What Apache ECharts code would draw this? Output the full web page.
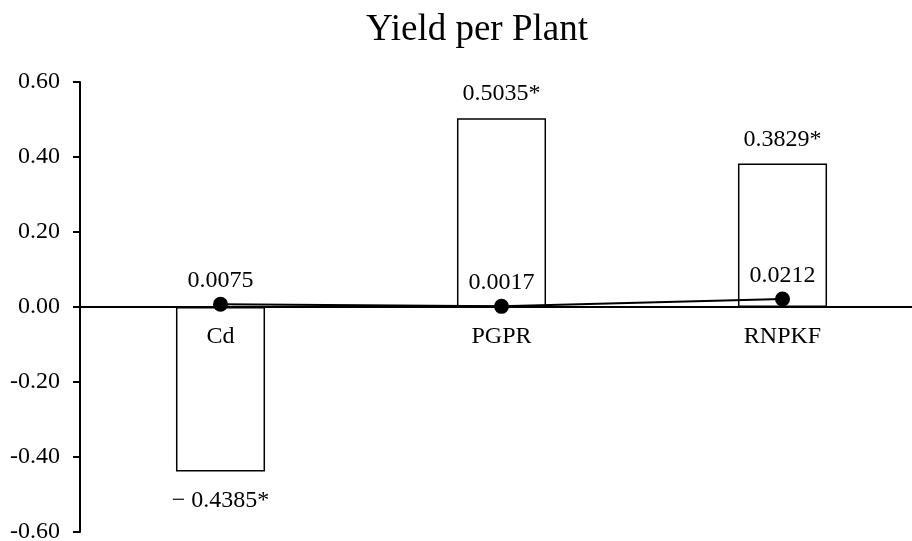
<!DOCTYPE html>
<html>
<head>
<meta charset="utf-8">
<script src="https://cdn.jsdelivr.net/npm/echarts@6/dist/echarts.min.js"></script>
<style>
  html, body { margin: 0; padding: 0; background: #fff; }
  #chart { width: 912px; height: 541px; }
</style>
</head>
<body>
<div id="chart"></div>
<script>
// 数据
var categories = ['Cd', 'PGPR', 'RNPKF'];
var barValues = [-0.4385, 0.5035, 0.3829];
var barMarks = ['*', '*', '*'];
var lineValues = [0.0075, 0.0017, 0.0212];

var font = "'Liberation Serif', 'Times New Roman', serif";

var chart = echarts.init(document.getElementById('chart'));
var option = {
  backgroundColor: '#ffffff',
  animation: false,
  title: {
    text: 'Yield per Plant',
    left: 361,
    top: 7,
    textStyle: {
      fontFamily: font,
      fontSize: 37,
      fontWeight: 'normal',
      color: '#000'
    }
  },
  grid: {
    left: 80,
    right: -11,
    top: 82,
    bottom: 9,
    outerBoundsMode: 'none'
  },
  xAxis: {
    type: 'category',
    data: categories,
    // 把x轴整体移到0的位置
    offset: -225,
    axisLine: {
      onZero: false,
      lineStyle: {color: '#000', width: 2}
    },
    axisTick: {show: false},
    axisLabel: {
      margin: 18,
      fontFamily: font,
      fontSize: 24,
      color: '#000'
    },
    z: 3
  },
  yAxis: {
    type: 'value',
    min: -0.6,
    max: 0.6,
    interval: 0.2,
    axisLine: {show: true, lineStyle: {color: '#000', width: 2}},
    axisTick: {show: true, length: 7, lineStyle: {color: '#000', width: 2}},
    splitLine: {show: false},
    axisLabel: {
      margin: 20,
      fontFamily: font,
      fontSize: 24,
      color: '#000',
      formatter: function (v) {
        return v.toFixed(2);
      }
    }
  },
  series: [
    {
      type: 'bar',
      data: barValues.map(function (v) {
        return {value: v, label: {distance: v < 0 ? 17 : 12}};
      }),
      barWidth: '31.7%',
      itemStyle: {
        color: '#ffffff',
        borderColor: '#000',
        borderWidth: 1.5
      },
      label: {
        show: true,
        position: 'outside',
        fontFamily: font,
        fontSize: 24,
        color: '#000',
        formatter: function (p) {
          var v = p.value;
          var s = Math.abs(v).toFixed(4) + barMarks[p.dataIndex];
          return v < 0 ? '\u2212 ' + s : s;
        }
      },
      z: 2
    },
    {
      type: 'line',
      data: lineValues,
      symbol: 'circle',
      symbolSize: 15,
      lineStyle: {color: '#000', width: 2},
      itemStyle: {color: '#000'},
      label: {
        show: true,
        position: 'top',
        distance: 4,
        fontFamily: font,
        fontSize: 24,
        color: '#000',
        formatter: function (p) {
          return p.value.toFixed(4);
        }
      },
      z: 4
    }
  ]
};
chart.setOption(option);
</script>
</body>
</html>
